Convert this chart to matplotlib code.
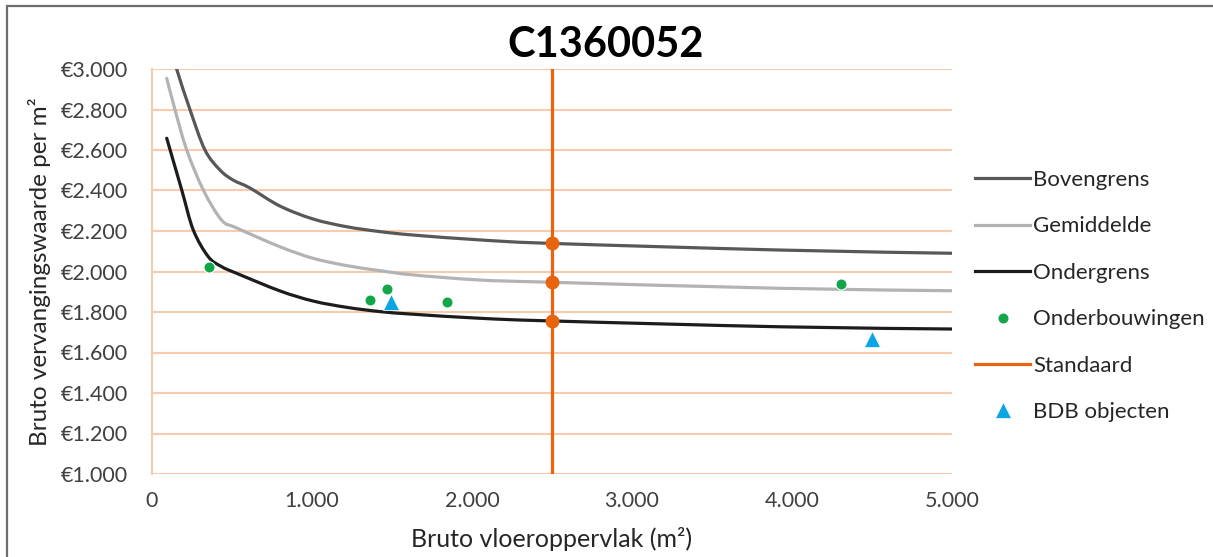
import matplotlib
matplotlib.use("Agg")
from matplotlib import pyplot
from matplotlib.lines import Line2D
from matplotlib.path import Path
from matplotlib.patches import PathPatch, Rectangle
from matplotlib.ticker import FuncFormatter, MultipleLocator

pyplot.rcParams["font.family"] = ["Lato", "DejaVu Sans"]

title = "C1360052"

# boundary curves (floor area m2 -> value per m2)
boven_x = [100, 154, 238, 331, 425, 506, 613, 800, 1008, 1217, 1425, 1633, 2050, 2488, 3925, 5000]
boven_y = [3150, 3000, 2798, 2600, 2501, 2452, 2412, 2323, 2259, 2221, 2197, 2180, 2156, 2139, 2106, 2090]

gem_x = [92, 144, 217, 321, 435, 529, 800, 1008, 1217, 1425, 1633, 2050, 2488, 3925, 5000]
gem_y = [2954, 2798, 2600, 2402, 2254, 2215, 2122, 2065, 2029, 2004, 1983, 1958, 1947, 1917, 1905]

onder_x = [92, 186, 258, 352, 435, 529, 800, 1008, 1217, 1425, 1633, 2050, 2488, 3925, 5000]
onder_y = [2658, 2402, 2205, 2073, 2024, 1991, 1904, 1854, 1823, 1802, 1789, 1769, 1756, 1727, 1716]

# supporting references
onderb_x = [358, 1362, 1471, 1846, 4306]
onderb_y = [2024, 1859, 1913, 1848, 1938]

bdb_x = [1494, 4500]
bdb_y = [1849, 1667]

std_x = 2500
std_y = [2139, 1947, 1756]


def smooth_path(xs, ys):
    # Catmull-Rom through the points, written as cubic Bezier segments
    pts = list(zip(xs, ys))
    verts = [pts[0]]
    codes = [Path.MOVETO]
    n = len(pts)
    for i in range(n - 1):
        p0 = pts[max(i - 1, 0)]
        p1 = pts[i]
        p2 = pts[i + 1]
        p3 = pts[min(i + 2, n - 1)]
        c1 = (p1[0] + (p2[0] - p0[0]) / 6, p1[1] + (p2[1] - p0[1]) / 6)
        c2 = (p2[0] - (p3[0] - p1[0]) / 6, p2[1] - (p3[1] - p1[1]) / 6)
        verts += [c1, c2, p2]
        codes += [Path.CURVE4] * 3
    return Path(verts, codes)


fig = pyplot.figure(figsize=(12.13, 5.57), dpi=100)
ax = fig.add_axes([152 / 1213, 1 - 474 / 557, 800 / 1213, 405 / 557])

# frame around the chart area
fig.patches.append(Rectangle((7 / 1213, -0.1), 1.2, (557 - 6) / 557 + 0.1,
                             transform=fig.transFigure, fill=False,
                             edgecolor="#6d6d6d", lw=1.6))

curves = [
    (boven_x, boven_y, "#58585a", "Bovengrens"),
    (gem_x, gem_y, "#b3b3b3", "Gemiddelde"),
    (onder_x, onder_y, "#1c1c1c", "Ondergrens"),
]
handles = []
for xs, ys, col, name in curves:
    ax.add_patch(PathPatch(smooth_path(xs, ys), fill=False, edgecolor=col,
                           lw=2.3, capstyle="round", zorder=3))
    handles.append(Line2D([], [], color=col, lw=2.3, label=name))

(h_ob,) = ax.plot(onderb_x, onderb_y, ls="none", marker="o", ms=8, color="#12a64a",
                  mec="white", mew=0.8, label="Onderbouwingen", zorder=5)
(h_std,) = ax.plot([std_x, std_x], [1000, 3000], color="#e8640f", lw=2.3,
                   label="Standaard", zorder=4)
ax.plot([std_x] * len(std_y), std_y, ls="none", marker="o", ms=9, color="#e8640f", zorder=4)
(h_bdb,) = ax.plot(bdb_x, bdb_y, ls="none", marker="^", ms=11, color="#0aa5e3",
                   mec="white", mew=0.5, label="BDB objecten", zorder=5)
handles += [h_ob, h_std, h_bdb]

ax.set_xlim(0, 5000)
ax.set_ylim(1000, 3000)
ax.xaxis.set_major_locator(MultipleLocator(1000))
ax.yaxis.set_major_locator(MultipleLocator(200))
ax.xaxis.set_major_formatter(FuncFormatter(lambda v, p: f"{v:,.0f}".replace(",", ".")))
ax.yaxis.set_major_formatter(FuncFormatter(lambda v, p: "€" + f"{v:,.0f}".replace(",", ".")))
ax.grid(axis="y", color="#f8cbad", lw=1.5, zorder=0)
ax.set_axisbelow(True)
for side in ["top", "right", "bottom"]:
    ax.spines[side].set_visible(False)
ax.spines["left"].set_color("#f8cbad")
ax.spines["left"].set_linewidth(1.5)
ax.tick_params(axis="y", length=0, pad=17, labelsize=15.5, labelcolor="#404040")
ax.tick_params(axis="x", length=0, pad=12, labelsize=15.5, labelcolor="#404040")

ax.set_xlabel("Bruto vloeroppervlak (m²)", fontsize=18, color="#262626", labelpad=12)
ax.set_ylabel("Bruto vervangingswaarde per m²", fontsize=17.5, color="#262626", labelpad=7)
fig.text(606 / 1213, 1 - 45 / 557, title, ha="center", va="center",
         fontsize=30, fontweight="bold", color="black")

fig.legend(handles=handles, loc="upper left", bbox_to_anchor=(955 / 1213, 1 - 150 / 557),
           frameon=False, fontsize=16, handlelength=2.48, handletextpad=0.14,
           labelspacing=1.19, labelcolor="#262626")

fig.savefig("out.png", dpi=100)
